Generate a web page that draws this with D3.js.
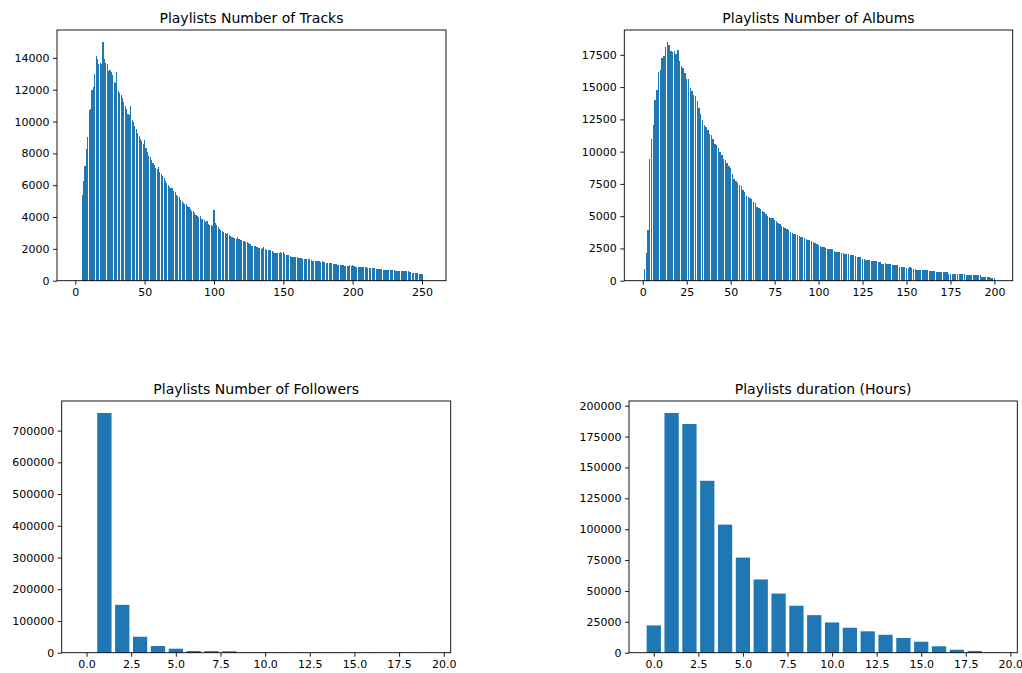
<!DOCTYPE html>
<html>
<head>
<meta charset="utf-8">
<script src="https://cdn.jsdelivr.net/npm/d3@7"></script>
<style>
  body { margin: 0; background: #fff; }
  svg { display: block; }
  text { font-family: "DejaVu Sans", sans-serif; fill: #000; }
</style>
</head>
<body>
<div id="chart"></div>
<script>
/* data */
// number of tracks per playlist, counts for 5..250
var tracksStart = 5;
var tracksCounts = [
  5400, 6250, 7200, 8300, 9000, 10700, 10800, 12000, 12200, 13000,
  14100, 13900, 13600, 13650, 13600, 15000, 13900, 13700, 13600, 13200,
  13250, 13100, 12900, 12500, 12450, 13100, 11900, 11800, 11650, 11500,
  11200, 11000, 10800, 10500, 10400, 10950, 10100, 9950, 9700, 9500,
  9300, 9100, 8900, 8750, 8600, 8850, 8350, 8100, 7850, 7800,
  7600, 7400, 7250, 7100, 7000, 7150, 6800, 6700, 6600, 6450,
  6250, 6150, 6000, 5900, 5800, 5800, 5650, 5550, 5400, 5300,
  5250, 5100, 5000, 4900, 4850, 4850, 4700, 4600, 4500, 4400,
  4350, 4250, 4150, 4050, 4000, 4050, 3900, 3850, 3800, 3700,
  3750, 3550, 3500, 3480, 3450, 4430, 3620, 3500, 3350, 3250,
  3180, 3100, 3050, 3000, 2950, 2970, 2850, 2800, 2760, 2680,
  2660, 2650, 2720, 2650, 2560, 2550, 2510, 2470, 2450, 2400,
  2380, 2300, 2200, 2180, 2160, 2180, 2100, 2080, 2070, 2000,
  2050, 2100, 1980, 1960, 1920, 1930, 1900, 1850, 1780, 1760,
  1740, 1720, 1760, 1780, 1760, 1790, 1650, 1620, 1610, 1600,
  1580, 1520, 1510, 1500, 1490, 1480, 1420, 1400, 1400, 1390,
  1380, 1370, 1360, 1350, 1340, 1320, 1260, 1250, 1240, 1230,
  1250, 1210, 1200, 1210, 1190, 1200, 1140, 1130, 1120, 1110,
  1100, 1040, 1030, 1020, 1010, 980, 970, 960, 960, 950,
  950, 920, 930, 960, 950, 970, 900, 890, 880, 870,
  880, 860, 880, 870, 850, 860, 820, 815, 810, 800,
  810, 780, 760, 750, 740, 760, 730, 700, 680, 670,
  680, 670, 660, 670, 660, 660, 640, 620, 610, 600,
  600, 610, 590, 600, 580, 590, 570, 560, 500, 480,
  470, 480, 460, 420, 400, 390
];

// number of albums per playlist, counts for 1..200
var albumsStart = 1;
var albumsCounts = [
  900, 2150, 3950, 9450, 10950, 12100, 14000, 14800, 16200, 16300,
  17250, 17400, 18100, 18500, 18250, 17800, 17700, 17800, 17600, 17900,
  17000, 16650, 16500, 16100, 15650, 15600, 14950, 14700, 14400, 14300,
  13900, 13400, 12900, 12450, 12100, 11900, 11700, 11350, 11300, 10950,
  10600, 10500, 10250, 10000, 9750, 9450, 9350, 9100, 8900, 8700,
  8250, 7850, 7700, 7550, 7450, 7300, 7050, 6900, 6600, 6500,
  6400, 6350, 6100, 6000, 5700, 5650, 5550, 5400, 5300, 5200,
  5050, 4950, 4880, 4830, 4700, 4600, 4480, 4400, 4250, 4150,
  4080, 4000, 3930, 3800, 3720, 3650, 3600, 3520, 3470, 3400,
  3350, 3280, 3220, 3180, 3160, 3050, 2960, 2900, 2840, 2780,
  2700, 2640, 2580, 2500, 2460, 2450, 2440, 2420, 2330, 2260,
  2240, 2200, 2180, 2150, 2100, 2070, 2100, 2000, 1980, 1990,
  1900, 1810, 1860, 1850, 1700, 1660, 1620, 1610, 1570, 1560,
  1560, 1550, 1540, 1460, 1450, 1300, 1290, 1370, 1280, 1270,
  1260, 1200, 1190, 1190, 1180, 1100, 1090, 1090, 1080, 990,
  980, 1030, 1020, 910, 900, 840, 830, 830, 820, 830,
  820, 810, 780, 770, 775, 770, 700, 700, 660, 650,
  650, 645, 640, 550, 545, 545, 540, 540, 545, 540,
  535, 540, 530, 420, 425, 420, 420, 415, 420, 410,
  415, 410, 320, 310, 310, 305, 300, 190, 185, 180
];

// followers per playlist, counts for 0..19
var followersStart = 0;
var followersCounts = [0, 755600, 150900, 50300, 21000, 12600, 5300, 5000, 4500, 1200,
  1000, 800, 700, 600, 500, 450, 400, 350, 300, 250];

// playlist duration in hours, counts for 0..19
var durationStart = 0;
var durationCounts = [22100, 194100, 185200, 139200, 103700, 77000, 59300, 47900, 38000, 30400,
  24500, 20200, 17300, 14500, 11900, 8900, 5200, 2400, 1400, 300];

var titles = ["Playlists Number of Tracks", "Playlists Number of Albums",
  "Playlists Number of Followers", "Playlists duration (Hours)"];

/* layout */
var W = 1022, H = 673;
var panels = [
  {title: titles[0], start: tracksStart, counts: tracksCounts, box: [57, 30, 446, 280.7],
   xdom: [-13.2, 267.3], xticks: d3.range(0, 251, 50), xfmt: d3.format("d"),
   yticks: d3.range(0, 14001, 2000), crisp: true},
  {title: titles[1], start: albumsStart, counts: albumsCounts, box: [624.3, 30, 1012.7, 280.7],
   xdom: [-10.5, 210.4], xticks: d3.range(0, 201, 25), xfmt: d3.format("d"),
   yticks: d3.range(0, 17501, 2500), crisp: true},
  {title: titles[2], start: followersStart, counts: followersCounts, box: [61.7, 401, 450.7, 652.7],
   xdom: [-1.39, 20.39], xticks: d3.range(0, 20.01, 2.5), xfmt: d3.format(".1f"),
   yticks: d3.range(0, 700001, 100000), crisp: false},
  {title: titles[3], start: durationStart, counts: durationCounts, box: [629, 401, 1017.3, 652.7],
   xdom: [-1.39, 20.39], xticks: d3.range(0, 20.01, 2.5), xfmt: d3.format(".1f"),
   yticks: d3.range(0, 200001, 25000), crisp: false}
];

var svg = d3.select("#chart").append("svg").attr("width", W).attr("height", H);

function drawPanel(p) {
  var x0 = p.box[0], y0 = p.box[1], x1 = p.box[2], y1 = p.box[3];
  var data = p.counts.map(function(v, i) { return {k: p.start + i, v: v}; });

  var x = d3.scaleLinear().domain(p.xdom).range([x0, x1]);
  var y = d3.scaleLinear().domain([0, d3.max(p.counts) * 1.05]).range([y1, y0]);

  var g = svg.append("g");

  g.append("g")
    .attr("shape-rendering", p.crisp ? "crispEdges" : null)
    .selectAll("rect")
    .data(data)
    .enter().append("rect")
    .attr("x", function(d) { return x(d.k - 0.4); })
    .attr("width", function(d) { return x(d.k + 0.4) - x(d.k - 0.4); })
    .attr("y", function(d) { return y(d.v); })
    .attr("height", function(d) { return y(0) - y(d.v); })
    .attr("fill", "#1f77b4");

  var xAxis = d3.axisBottom(x).tickValues(p.xticks).tickFormat(p.xfmt)
    .tickSizeInner(4).tickSizeOuter(0).tickPadding(3.5);
  var yAxis = d3.axisLeft(y).tickValues(p.yticks).tickFormat(d3.format("d"))
    .tickSizeInner(4).tickSizeOuter(0).tickPadding(3.5);

  var gx = g.append("g").attr("transform", "translate(0," + y1 + ")").call(xAxis);
  var gy = g.append("g").attr("transform", "translate(" + x0 + ",0)").call(yAxis);
  [gx, gy].forEach(function(a) {
    a.select(".domain").remove();
    a.selectAll("line").attr("stroke", "#000").attr("stroke-width", 0.9);
    a.selectAll("text").attr("font-size", 11).attr("font-family", "DejaVu Sans").attr("fill", "#000");
  });

  // frame
  g.append("rect")
    .attr("x", x0).attr("y", y0)
    .attr("width", x1 - x0).attr("height", y1 - y0)
    .attr("fill", "none").attr("stroke", "#000").attr("stroke-width", 0.9);

  g.append("text")
    .attr("x", (x0 + x1) / 2).attr("y", y0 - 7.5)
    .attr("text-anchor", "middle")
    .attr("font-size", 14)
    .text(p.title);
}

panels.forEach(drawPanel);
</script>
</body>
</html>
